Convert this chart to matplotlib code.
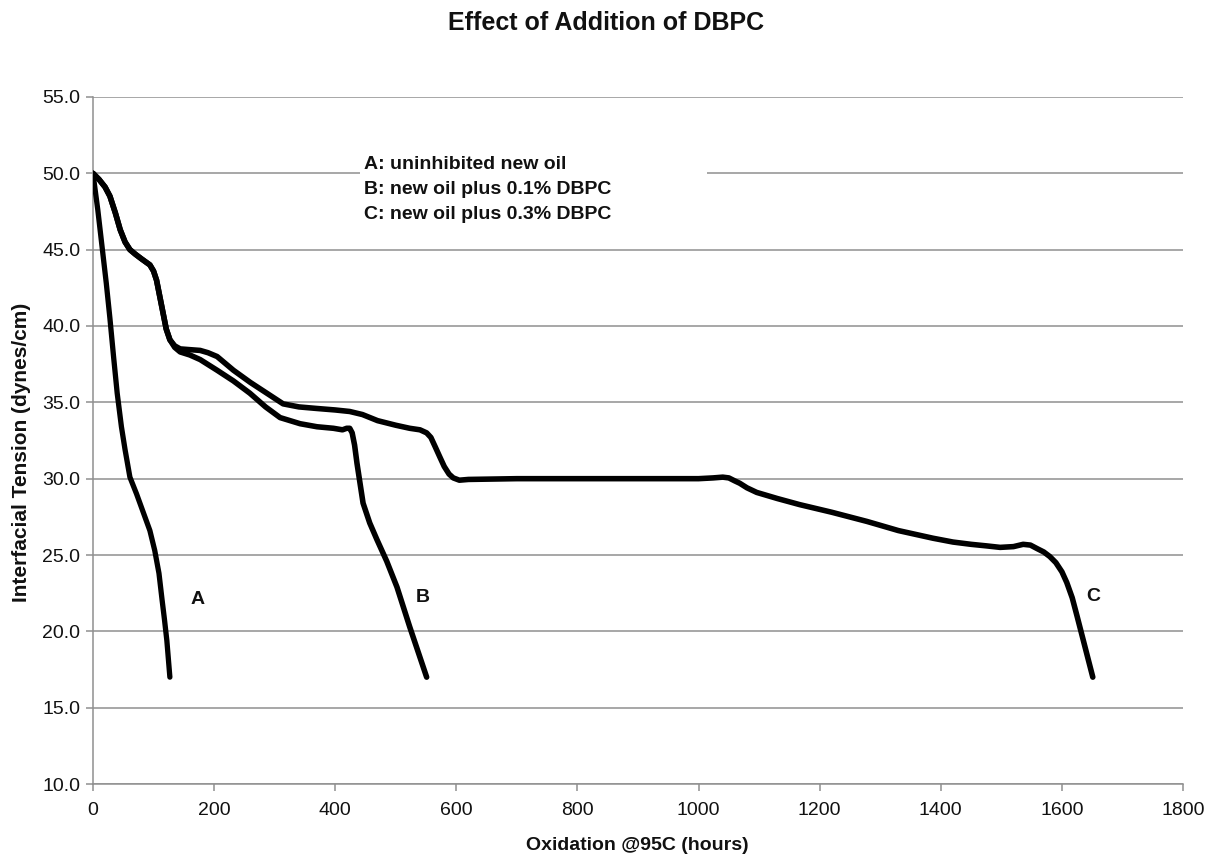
import matplotlib
matplotlib.use("Agg")
import matplotlib.pyplot as plt
from matplotlib.patches import Rectangle

plt.rcParams['font.family'] = ['Liberation Sans', 'DejaVu Sans']

# Curve A: uninhibited new oil
A_x = [0, 4, 8, 15, 22, 28, 34, 40, 47, 53, 61, 72, 83, 94, 102, 109, 114, 118, 122, 127]
A_y = [50, 48.8, 47.6, 45.2, 42.8, 40.5, 38.0, 35.6, 33.4, 31.9, 30.1, 29.0, 27.8, 26.6, 25.3,
       23.8, 22.1, 20.8, 19.4, 17.0]

# Curve B: new oil plus 0.1% DBPC
B_x = [0, 10, 20, 28, 37, 45, 53, 61, 70, 80, 94, 100, 105, 110, 116, 121, 127, 135, 144, 160,
       177, 205, 232, 259, 285, 309, 342, 370, 397, 412, 419, 424, 428, 432, 436, 446, 457, 469,
       485, 502, 523, 551]
B_y = [50, 49.6, 49.1, 48.5, 47.4, 46.3, 45.5, 45.0, 44.7, 44.4, 44.0, 43.6, 43.0, 42.0, 40.8,
       39.8, 39.1, 38.6, 38.3, 38.1, 37.8, 37.1, 36.4, 35.6, 34.7, 34.0, 33.6, 33.4, 33.3, 33.2,
       33.3, 33.3, 33.0, 32.2, 31.0, 28.4, 27.1, 26.0, 24.6, 22.9, 20.3, 17.0]

# Curve C: new oil plus 0.3% DBPC
C_x = [0, 10, 20, 28, 37, 45, 53, 61, 70, 80, 94, 100, 105, 110, 116, 121, 127, 135, 144, 160,
       177, 190, 205, 232, 260, 287, 314, 340, 369, 400, 424, 445, 470, 500, 523, 540, 551, 558,
       565, 573, 580, 588, 595, 605, 620, 700, 800, 900, 1000, 1024, 1040, 1050, 1060, 1068,
       1080, 1096, 1130, 1167, 1220, 1278, 1330, 1387, 1420, 1450, 1475, 1498, 1520, 1536, 1548,
       1560, 1570, 1580, 1590, 1600, 1608, 1617, 1625, 1638, 1651]
C_y = [50, 49.6, 49.1, 48.5, 47.4, 46.3, 45.5, 45.0, 44.7, 44.4, 44.0, 43.6, 43.0, 42.0, 40.8,
       39.8, 39.1, 38.7, 38.5, 38.45, 38.4, 38.25, 38.0, 37.1, 36.3, 35.6, 34.9, 34.7, 34.6,
       34.5, 34.4, 34.2, 33.8, 33.5, 33.3, 33.2, 33.0, 32.7, 32.1, 31.4, 30.8, 30.3, 30.05, 29.9,
       29.95, 30.0, 30.0, 30.0, 30.0, 30.05, 30.1, 30.05, 29.85, 29.7, 29.4, 29.1, 28.7, 28.3,
       27.8, 27.2, 26.6, 26.1, 25.85, 25.7, 25.6, 25.5, 25.55, 25.7, 25.65, 25.4, 25.2, 24.9,
       24.5, 23.9, 23.2, 22.2, 21.0, 19.0, 17.0]

curve_labels = ["A", "B", "C"]
label_x = [173, 545, 1651]
label_y = [22.1, 22.2, 22.3]

legend_lines = ["A: uninhibited new oil",
                "B: new oil plus 0.1% DBPC",
                "C: new oil plus 0.3% DBPC"]

y_ticks = [10, 15, 20, 25, 30, 35, 40, 45, 50, 55]
x_ticks = [0, 200, 400, 600, 800, 1000, 1200, 1400, 1600, 1800]

fig = plt.figure(figsize=(12.2, 8.65), dpi=100)
ax = fig.add_axes([0.0762, 0.0936, 0.8935, 0.7943])

ax.set_xlim(0, 1800)
ax.set_ylim(10, 55)
ax.set_yticks(y_ticks)
ax.set_yticklabels([f"{v:.1f}" for v in y_ticks])
ax.set_xticks(x_ticks)
ax.set_xticklabels([str(v) for v in x_ticks])

grid_c = '#8f8f8f'
ax.grid(axis='y', color=grid_c, linewidth=1.1, zorder=0)
for s in ['top', 'right']:
    ax.spines[s].set_visible(False)
for s in ['left', 'bottom']:
    ax.spines[s].set_color(grid_c)
    ax.spines[s].set_linewidth(1.1)
ax.tick_params(axis='both', colors=grid_c, labelcolor='#111111', labelsize=14,
               length=5, width=1.1)
ax.tick_params(axis='y', pad=4)
ax.tick_params(axis='x', pad=8)

# white text box covering the gridline
ax.add_patch(Rectangle((0.245, 0.806), 0.318, 0.117, transform=ax.transAxes,
                       facecolor='white', edgecolor='none', zorder=2))
for i, t in enumerate(legend_lines):
    ax.text(0.249, 0.902 - i * 0.0365, t, transform=ax.transAxes, fontsize=14,
            fontweight='bold', color='#111111', va='center', ha='left', zorder=2.5)

kw = dict(color='black', solid_capstyle='round', solid_joinstyle='round', zorder=3)
ax.plot(A_x, A_y, lw=3.8, **kw)
ax.plot(B_x, B_y, lw=4.0, **kw)
ax.plot(C_x, C_y, lw=4.0, **kw)

for lab, lx, ly in zip(curve_labels, label_x, label_y):
    ax.text(lx, ly, lab, fontsize=14, fontweight='bold', ha='center', va='center', zorder=4,
            color='#111111')

fig.text(0.497, 1 - 23 / 865, "Effect of Addition of DBPC", fontsize=18, fontweight='bold',
         ha='center', va='center', color='#111111')
fig.text(637 / 1220, 1 - 845 / 865, "Oxidation @95C (hours)", fontsize=14, fontweight='bold',
         ha='center', va='center', color='#111111')
fig.text(22 / 1220, 1 - 452 / 865, "Interfacial Tension (dynes/cm)", fontsize=15,
         fontweight='bold', ha='center', va='center', rotation=90, color='#111111')

fig.savefig("out.png", dpi=100)
